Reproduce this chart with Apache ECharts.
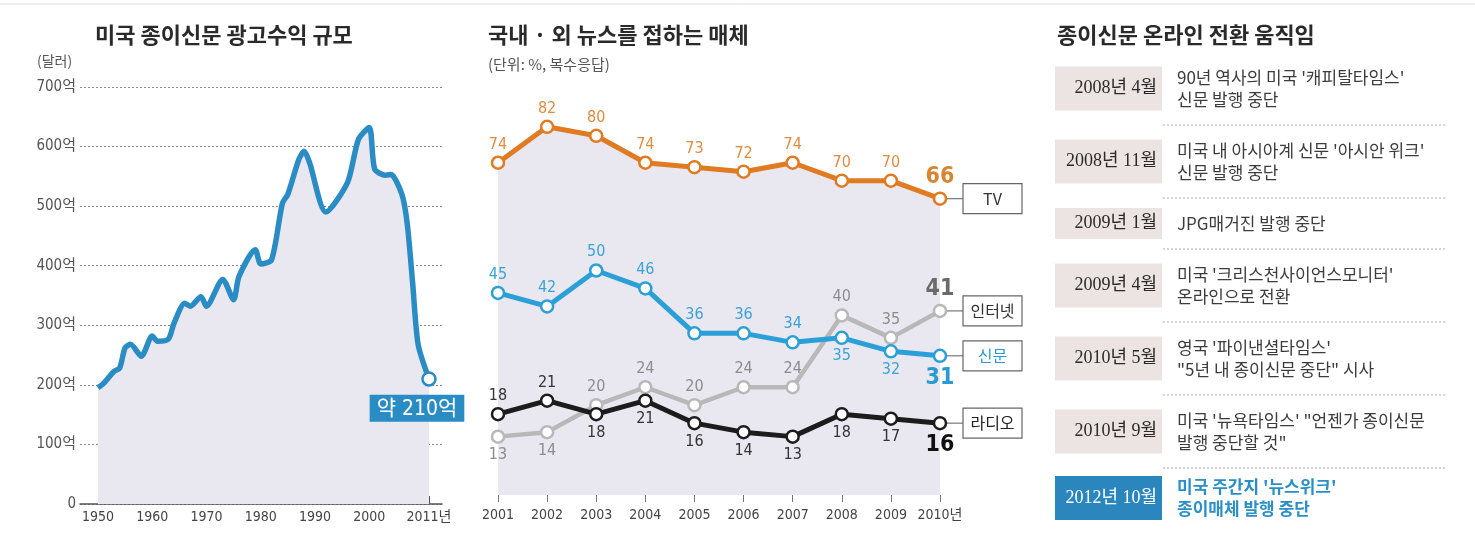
<!DOCTYPE html>
<html>
<head>
<meta charset="utf-8">
<script src="https://cdn.jsdelivr.net/npm/echarts@6/dist/echarts.min.js"></script>
<style>
  html, body { margin: 0; padding: 0; background: #fff; }
  #main { width: 1475px; height: 539px; }
</style>
</head>
<body>
<div id="main"></div>
<script>
// 미국 종이신문 광고수익 (억 달러)
var adYears = [1950, 1951, 1953, 1954, 1955, 1956, 1958, 1960, 1961, 1963, 1964, 1966, 1967, 1969, 1970, 1973, 1975, 1976, 1979, 1980, 1982, 1984, 1985, 1987, 1988, 1989, 1992, 1996, 1998, 2000, 2001, 2003, 2004, 2006, 2007, 2008, 2009, 2011];
var adValues = [195, 202, 223, 228, 262, 268, 248, 282, 273, 277, 303, 337, 332, 348, 332, 377, 343, 382, 427, 403, 410, 505, 520, 578, 592, 573, 490, 540, 612, 632, 562, 552, 553, 520, 470, 370, 268, 210];
var adTickYears = [1950, 1960, 1970, 1980, 1990, 2000, 2011];

// 국내·외 뉴스를 접하는 매체 (%)
var newsYears = ['2001', '2002', '2003', '2004', '2005', '2006', '2007', '2008', '2009', '2010'];
var tvShare = [74, 82, 80, 74, 73, 72, 74, 70, 70, 66];
var paperShare = [45, 42, 50, 46, 36, 36, 34, 35, 32, 31];
var webShare = [13, 14, 20, 24, 20, 24, 24, 40, 35, 41];
var radioShare = [18, 21, 18, 21, 16, 14, 13, 18, 17, 16];

// 종이신문 온라인 전환 움직임
var eventDates = ['2008년 4월', '2008년 11월', '2009년 1월', '2009년 4월', '2010년 5월', '2010년 9월', '2012년 10월'];
var eventTexts = [
  ["90년 역사의 미국 '캐피탈타임스'", '신문 발행 중단'],
  ["미국 내 아시아계 신문 '아시안 위크'", '신문 발행 중단'],
  ['JPG매거진 발행 중단'],
  ["미국 '크리스천사이언스모니터'", '온라인으로 전환'],
  ["영국 '파이낸셜타임스'", '"5년 내 종이신문 중단" 시사'],
  ["미국 '뉴욕타임스' \"언젠가 종이신문", '발행 중단할 것"'],
  ["미국 주간지 '뉴스위크'", '종이매체 발행 중단']
];

var numFont = "'DejaVu Sans Condensed', 'Liberation Sans Narrow', 'Noto Sans CJK KR', sans-serif";
var krFont = "'Noto Sans CJK KR', sans-serif";
var serifFont = "'Liberation Serif', 'DejaVu Serif', 'Noto Sans CJK KR', serif";
var blue = '#2a8cc4';

var chart = echarts.init(document.getElementById('main'));

// 중간 차트 시리즈: below = 라벨을 점 아래에 다는 인덱스
function newsSeries(name, values, color, labelColor, below, lineWidth, lastColor) {
  var last = values.length - 1;
  return {
    name: name,
    type: 'line',
    xAxisIndex: 1,
    yAxisIndex: 1,
    symbol: 'circle',
    symbolSize: 12,
    lineStyle: { color: color, width: lineWidth },
    itemStyle: { color: '#fff', borderColor: color, borderWidth: 2.5 },
    label: {
      show: true,
      color: labelColor,
      fontFamily: numFont,
      fontSize: 16,
      distance: 3
    },
    data: values.map(function (v, i) {
      var item = { value: v, label: { position: below.indexOf(i) >= 0 ? 'bottom' : 'top' } };
      if (i === last) {
        item.label.fontSize = 23;
        item.label.fontWeight = 'bold';
        item.label.color = lastColor;
      }
      return item;
    })
  };
}

var tvSeries = newsSeries('TV', tvShare, '#e07b22', '#df8c3e', [], 5, '#d98530');
tvSeries.areaStyle = { color: '#e9e7f0', opacity: 1 };

var titleStyle = { fontFamily: krFont, fontSize: 22, fontWeight: 'bold', color: '#2a2a2a' };

var option = {
  animation: false,
  title: [
    { text: '미국 종이신문 광고수익 규모', left: 95, top: 24, padding: 0, textStyle: titleStyle },
    { text: '(달러)', left: 37, top: 54, padding: 0,
      textStyle: { fontFamily: krFont, fontSize: 14, fontWeight: 'normal', color: '#555' } },
    { text: '국내 · 외 뉴스를 접하는 매체', left: 488, top: 24, padding: 0, textStyle: titleStyle },
    { text: '(단위: %, 복수응답)', left: 488, top: 57, padding: 0,
      textStyle: { fontFamily: krFont, fontSize: 15, fontWeight: 'normal', color: '#555' } },
    { text: '종이신문 온라인 전환 움직임', left: 1057, top: 24, padding: 0, textStyle: titleStyle }
  ],
  grid: [
    { left: 80, top: 87, width: 362, height: 417 },
    { left: 498, top: 46, width: 442, height: 449 }
  ],
  xAxis: [
    {
      type: 'value', gridIndex: 0, min: 1946.7, max: 2013.4,
      axisLine: { show: true, lineStyle: { color: '#555', width: 1.5 } },
      axisTick: { show: true, inside: true, length: 8, customValues: adTickYears, lineStyle: { color: '#555' } },
      axisLabel: {
        customValues: adTickYears, margin: 6, fontSize: 14, color: '#444', fontFamily: numFont,
        formatter: function (v) { return v === 2011 ? '2011년' : String(v); }
      },
      splitLine: { show: false }
    },
    {
      type: 'category', gridIndex: 1, data: newsYears, boundaryGap: false, offset: 5,
      axisLine: { show: false },
      axisTick: { show: true, length: 7, interval: 0, lineStyle: { color: '#777' } },
      axisLabel: {
        interval: 0, margin: 8, fontSize: 14, color: '#444', fontFamily: numFont,
        formatter: function (v, i) { return i === newsYears.length - 1 ? v + '년' : v; }
      }
    }
  ],
  yAxis: [
    {
      type: 'value', gridIndex: 0, min: 0, max: 700, interval: 100,
      axisLine: { show: false }, axisTick: { show: false },
      axisLabel: {
        margin: 4, fontSize: 15, color: '#555', fontFamily: numFont,
        formatter: function (v) { return v === 0 ? '0' : v + '억'; }
      },
      splitLine: { show: true, lineStyle: { color: '#8a8a8a', type: [2, 2], width: 1 } }
    },
    { type: 'value', gridIndex: 1, min: 0, max: 100, show: false }
  ],
  series: [
    {
      name: '광고수익',
      type: 'line',
      xAxisIndex: 0,
      yAxisIndex: 0,
      smooth: 0.25,
      symbol: 'none',
      lineStyle: { color: blue, width: 5.5 },
      areaStyle: { color: '#e9e7f0', opacity: 1 },
      data: adYears.map(function (y, i) {
        var item = { value: [y, adValues[i]] };
        if (i === adYears.length - 1) {
          item.symbol = 'circle';
          item.symbolSize = 13;
          item.itemStyle = { color: '#fff', borderColor: blue, borderWidth: 2.5 };
          item.label = {
            show: true, position: 'bottom', offset: [-12, 3],
            formatter: function (p) { return '약 ' + p.value[1] + '억'; },
            backgroundColor: blue, color: '#fff', fontSize: 21,
            fontFamily: numFont, padding: [4, 7, 2, 7]
          };
        }
        return item;
      })
    },
    tvSeries,
    newsSeries('인터넷', webShare, '#b8b8b8', '#8c8c8c', [0, 1], 4.5, '#6a6a6a'),
    newsSeries('신문', paperShare, '#2b9fd8', '#3aa3d6', [7, 8, 9], 5, '#2a9ad3'),
    newsSeries('라디오', radioShare, '#1c1c1c', '#333', [2, 3, 4, 5, 6, 7, 8, 9], 5, '#111')
  ]
};

chart.setOption(option);

// 그래픽 요소: 시리즈 끝 태그 + 오른쪽 연표
var graphics = [];
graphics.push({ type: 'line', shape: { x1: 0, y1: 4, x2: 1475, y2: 4 }, style: { stroke: '#ddd', lineWidth: 1 } });

var endTags = [
  { name: 'TV', values: tvShare, color: '#333' },
  { name: '인터넷', values: webShare, color: '#333' },
  { name: '신문', values: paperShare, color: '#2a9ad3' },
  { name: '라디오', values: radioShare, color: '#222' }
];
endTags.forEach(function (t) {
  var last = t.values.length - 1;
  var p = chart.convertToPixel({ gridIndex: 1 }, [last, t.values[last]]);
  graphics.push({ type: 'line', z: 1, shape: { x1: p[0] + 6, y1: p[1], x2: p[0] + 23, y2: p[1] },
    style: { stroke: '#777', lineWidth: 1.2 } });
  graphics.push({ type: 'rect', z: 2, shape: { x: p[0] + 23, y: p[1] - 15, width: 59, height: 30 },
    style: { fill: '#fff', stroke: '#666', lineWidth: 1.2 } });
  graphics.push({ type: 'text', z: 3, x: p[0] + 52.5, y: p[1],
    style: { text: t.name, fill: t.color, font: '16px ' + krFont, align: 'center', verticalAlign: 'middle' } });
});

var rowTop = 52;
eventDates.forEach(function (d, i) {
  var lines = eventTexts[i];
  var highlight = i === eventDates.length - 1;
  var pitch = lines.length > 1 ? 73 : 51;
  var boxH = lines.length > 1 ? 44 : 31;
  var cy = highlight ? rowTop + 30 : rowTop + pitch / 2;
  graphics.push({ type: 'rect', shape: { x: 1055, y: cy - boxH / 2, width: 107, height: boxH },
    style: { fill: highlight ? '#2b86be' : '#ebe4e2' } });
  graphics.push({ type: 'text', x: 1157, y: cy,
    style: { text: d, fill: highlight ? '#fff' : '#2a2a2a', font: '18px ' + serifFont, align: 'right', verticalAlign: 'middle' } });
  lines.forEach(function (ln, j) {
    var ly = cy + (j - (lines.length - 1) / 2) * 22;
    graphics.push({ type: 'text', x: 1177, y: ly,
      style: { text: ln, fill: highlight ? '#2a8fc6' : '#3c3c3c',
        font: (highlight ? 'bold ' : '') + '17px ' + krFont, align: 'left', verticalAlign: 'middle' } });
  });
  rowTop += pitch;
  if (i < eventDates.length - 1) {
    graphics.push({ type: 'line', shape: { x1: 1163, y1: rowTop, x2: 1447, y2: rowTop },
      style: { stroke: '#aaa', lineWidth: 1, lineDash: [2, 2] } });
  }
});

chart.setOption({ graphic: graphics });
</script>
</body>
</html>
